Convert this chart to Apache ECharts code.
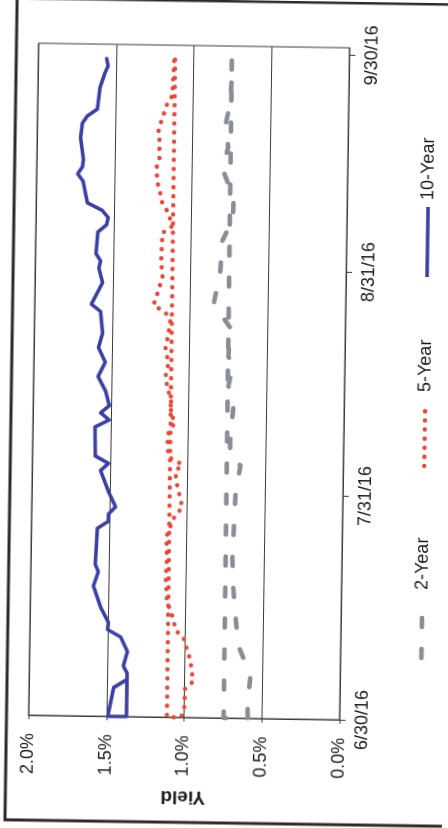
<!DOCTYPE html>
<html>
<head>
<meta charset="utf-8">
<script src="https://cdn.jsdelivr.net/npm/echarts@6/dist/echarts.min.js"></script>
<style>
  html, body { margin: 0; padding: 0; background: #ffffff; }
  #chart {
    width: 448px; height: 828px;
    transform: rotate(0.85deg);
    transform-origin: 224px 414px;
  }
</style>
</head>
<body>
<div id="chart"></div>
<script>
// Treasury yields, Q3 2016 (percent). Each series is drawn as one path in listed order.
const dateTickLabels = ['6/30/16', '7/31/16', '8/31/16', '9/30/16'];
const yieldTicks = [0, 0.5, 1.0, 1.5, 2.0];

const tenYearDates = ['9/29','9/28','9/27','9/25','9/22','9/21','9/20','9/18','9/15','9/14','9/13','9/12','9/9','9/8','9/7','9/6','9/5','9/2','9/1','8/31','8/29','8/26','8/25','8/22','8/20','8/18','8/16','8/14','8/12','8/11','8/10','8/9','8/5','8/4','8/3','7/31','7/29','7/28','7/27','7/26','7/21','7/20','7/18','7/15','7/13','7/12','7/11','7/9','7/7','7/6','6/30','6/30','7/4','7/5'];
const tenYearYields = [1.56,1.55,1.57,1.60,1.615,1.68,1.71,1.72,1.70,1.705,1.735,1.70,1.67,1.575,1.535,1.545,1.60,1.61,1.58,1.59,1.565,1.635,1.575,1.56,1.585,1.54,1.585,1.535,1.51,1.565,1.51,1.60,1.595,1.51,1.56,1.505,1.46,1.505,1.505,1.575,1.585,1.565,1.595,1.545,1.495,1.50,1.415,1.37,1.395,1.37,1.37,1.49,1.455,1.38];

const fiveYearDates = ['9/29','6/30','6/30','7/1','7/4','7/5','7/8','7/10','7/11','7/12','7/14','7/16','7/19','7/22','7/25','7/27','7/28','7/29','8/1','8/3','8/4','8/5','8/8','8/10','8/11','8/12','8/13','8/16','8/18','8/20','8/22','8/24','8/25','8/26','8/28','8/30','9/1','9/5','9/6','9/8','9/9','9/11','9/12','9/14','9/15','9/18','9/19','9/21','9/22','9/23','9/24','9/29'];
const fiveYearYields = [1.12,1.11,1.02,1.00,0.995,0.945,0.965,0.997,1.01,1.06,1.085,1.12,1.13,1.125,1.13,1.095,1.075,1.03,1.065,1.08,1.035,1.125,1.134,1.083,1.122,1.104,1.118,1.152,1.134,1.154,1.137,1.125,1.159,1.236,1.205,1.18,1.19,1.185,1.121,1.154,1.187,1.208,1.222,1.23,1.211,1.213,1.221,1.196,1.178,1.165,1.134,1.125];

const twoYearDates = ['9/29','6/30','6/30','7/2','7/6','7/10','7/14','7/18','7/22','7/31','8/4','8/5','8/8','8/12','8/15','8/18','8/19','8/23','8/25','8/26','8/31','9/4','9/7','9/10','9/14','9/17','9/20','9/23','9/28','9/29'];
const twoYearYields = [0.755,0.745,0.59,0.593,0.576,0.657,0.678,0.695,0.704,0.69,0.661,0.73,0.729,0.712,0.746,0.716,0.749,0.739,0.805,0.851,0.808,0.80,0.733,0.73,0.805,0.77,0.79,0.762,0.75,0.755];

const seriesNames = ['2-Year', '5-Year', '10-Year'];
const seriesColors = { '2-Year': '#8a8d96', '5-Year': '#ee4636', '10-Year': '#3b40a4' };

// day offset from the start of the quarter (6/30/2016)
const START = Date.UTC(2016, 5, 30);
function dayOf(md) {
  const parts = md.split('/').map(Number);
  const year = parts.length > 2 ? 2000 + parts[2] : 2016;
  return Math.round((Date.UTC(year, parts[0] - 1, parts[1]) - START) / 86400000);
}
function toPoints(dates, yields) {
  return dates.map((d, i) => [yields[i], dayOf(d)]);
}
const tickDays = dateTickLabels.map(dayOf);
const tickLabelByDay = {};
tickDays.forEach((d, i) => { tickLabelByDay[d] = dateTickLabels[i]; });

const FONT = '"Liberation Sans", Arial, sans-serif';
const TEXT = '#1a1a1a';

const styles = {
  '10-Year': { color: seriesColors['10-Year'], width: 3.6, type: 'solid', cap: 'round' },
  '5-Year':  { color: seriesColors['5-Year'],  width: 4.4, type: [0.1, 9], cap: 'round' },
  '2-Year':  { color: seriesColors['2-Year'],  width: 4.6, type: [9, 22], cap: 'round' }
};

const dataByName = {
  '10-Year': toPoints(tenYearDates, tenYearYields),
  '5-Year': toPoints(fiveYearDates, fiveYearYields),
  '2-Year': toPoints(twoYearDates, twoYearYields)
};

const chart = echarts.init(document.getElementById('chart'), null, { renderer: 'canvas' });

// legend, laid out along the rotated bottom edge (reads bottom to top)
function legendItem(name, symStart, symLen, textStart) {
  const s = styles[name];
  return [
    {
      type: 'line',
      shape: { x1: symStart, y1: 0, x2: symStart + symLen, y2: 0 },
      style: {
        stroke: s.color, lineWidth: s.width,
        lineDash: s.type === 'solid' ? null : s.type,
        lineCap: s.type === 'solid' ? 'butt' : 'round'
      }
    },
    {
      type: 'text', x: textStart, y: 0,
      style: { text: name, font: '18px ' + FONT, fill: TEXT, align: 'left', verticalAlign: 'middle' }
    }
  ];
}

chart.setOption({
  animation: false,
  backgroundColor: '#ffffff',
  grid: { left: 33, top: 46, width: 311, height: 672, show: true, borderColor: '#3a3a3a', borderWidth: 1, containLabel: false },
  xAxis: {
    type: 'value', min: 0, max: 2, interval: 0.5, inverse: true, position: 'bottom',
    name: 'Yield', nameLocation: 'middle', nameGap: 70, nameRotate: 180,
    nameTextStyle: { fontFamily: FONT, fontSize: 19, fontWeight: 'bold', color: TEXT },
    axisLine: { show: true, onZero: false, lineStyle: { color: '#3a3a3a', width: 1 } },
    axisTick: { show: true, length: 4, lineStyle: { color: '#3a3a3a' } },
    axisLabel: {
      rotate: 90, margin: 18, fontFamily: FONT, fontSize: 18, color: TEXT,
      formatter: v => yieldTicks.includes(v) ? v.toFixed(1) + '%' : ''
    },
    splitLine: { show: true, lineStyle: { color: '#3a3a3a', width: 1 } }
  },
  yAxis: {
    type: 'value', min: 0, max: 93, position: 'right',
    axisLine: { show: true, onZero: false, lineStyle: { color: '#3a3a3a', width: 1 } },
    axisTick: { show: true, length: 6, customValues: tickDays, lineStyle: { color: '#3a3a3a' } },
    axisLabel: {
      rotate: 90, margin: 14, fontFamily: FONT, fontSize: 18, color: TEXT,
      customValues: tickDays,
      formatter: v => tickLabelByDay[v] || ''
    },
    splitLine: { show: false }
  },
  series: seriesNames.slice().reverse().map(name => ({
    name: name,
    type: 'line',
    data: dataByName[name],
    showSymbol: false,
    symbol: 'none',
    smooth: false,
    clip: false,
    lineStyle: {
      color: styles[name].color, width: styles[name].width,
      type: styles[name].type, cap: styles[name].cap, join: 'round'
    }
  })),
  graphic: [
    {
      type: 'rect', silent: true, z: -1,
      shape: { x: 11, y: 1, width: 442, height: 822 },
      style: { fill: 'none', stroke: '#2a2a2a', lineWidth: 3 }
    },
    {
      type: 'group', x: 425, y: 657, rotation: Math.PI / 2,
      children: [].concat(
        legendItem('2-Year', 2, 48, 70),
        legendItem('5-Year', 194, 58, 268),
        legendItem('10-Year', 383, 70, 460)
      )
    }
  ]
});
</script>
</body>
</html>
